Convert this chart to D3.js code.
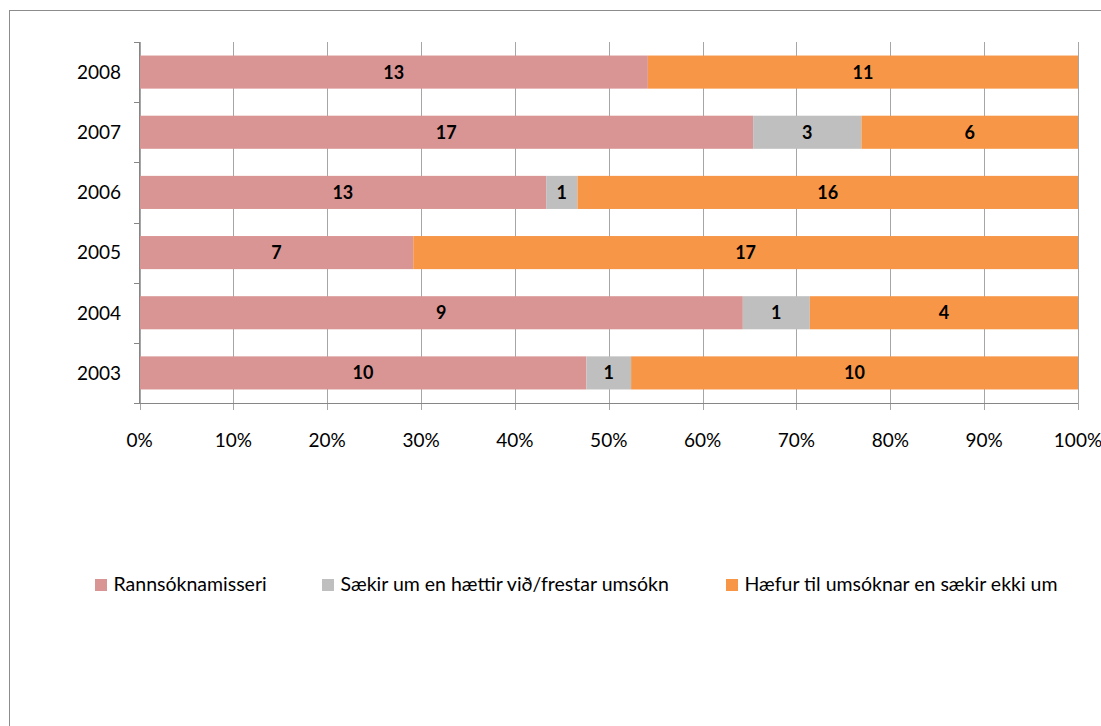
<!DOCTYPE html>
<html><head><meta charset="utf-8">
<script src="https://cdn.jsdelivr.net/npm/d3@7"></script>
<style>body{margin:0;background:#fff}svg{display:block}</style>
</head><body><svg id="c" width="1101" height="726"></svg>
<script>
const years = ["2008","2007","2006","2005","2004","2003"];
const seriesNames = ["Rannsóknamisseri","Sækir um en hættir við/frestar umsókn","Hæfur til umsóknar en sækir ekki um"];
const rannsokn = [13,17,13,7,9,10];
const saekir = [0,3,1,0,1,1];
const haefur = [11,6,16,17,4,10];
const colors = ["#D99594","#BFBFBF","#F79646"];
const xTicks = [0,0.1,0.2,0.3,0.4,0.5,0.6,0.7,0.8,0.9,1];

const FONT = "Lato, 'Noto Sans', sans-serif";
const svg = d3.select("#c");
svg.append("rect").attr("x",9.5).attr("y",10.5).attr("width",1120).attr("height",740)
  .attr("fill","#fff").attr("stroke","#8c8c8c").attr("stroke-width",1);

const rows = years.map((y,i)=>({year:y, vals:[rannsokn[i],saekir[i],haefur[i]]}));
const x = d3.scaleLinear().domain([0,1]).range([139.5,1078]);
const y = d3.scaleBand().domain(years).range([42,403]).paddingInner(0.45).paddingOuter(0.225);

const g = svg.append("g");
// gridlines
g.selectAll("line.grid").data(xTicks).join("line")
  .attr("x1",d=>Math.round(x(d))+0.5).attr("x2",d=>Math.round(x(d))+0.5)
  .attr("y1",42).attr("y2",410).attr("stroke","#a6a6a6").attr("stroke-width",1);

// bars
rows.forEach(r=>{
  const tot = d3.sum(r.vals);
  let acc = 0;
  r.vals.forEach((v,k)=>{
    if(v===0) return;
    const x0 = x(acc/tot), x1 = x((acc+v)/tot);
    g.append("rect").attr("x",x0).attr("y",y(r.year)).attr("width",x1-x0).attr("height",y.bandwidth()).attr("fill",colors[k]);
    g.append("text").attr("x",(x0+x1)/2).attr("y",y(r.year)+y.bandwidth()/2).attr("dy","0.36em")
      .attr("text-anchor","middle").attr("font-family",FONT).attr("font-weight","bold").attr("font-size",18)
      .attr("fill","#000").text(v);
    acc += v;
  });
});

// y axis
const yTickPos = d3.range(years.length+1).map(i=>42+i*(361/years.length));
g.append("line").attr("x1",139.5).attr("x2",139.5).attr("y1",42).attr("y2",403).attr("stroke","#868686");
g.selectAll("line.yt").data(yTickPos).join("line")
  .attr("x1",134).attr("x2",139.5).attr("y1",d=>Math.round(d)+0.5).attr("y2",d=>Math.round(d)+0.5).attr("stroke","#868686");
g.append("line").attr("x1",134).attr("x2",1078).attr("y1",403.5).attr("y2",403.5).attr("stroke","#868686");
g.selectAll("text.yl").data(years).join("text")
  .attr("x",121).attr("y",d=>y(d)+y.bandwidth()/2).attr("dy","0.36em").attr("text-anchor","end")
  .attr("font-family",FONT).attr("font-size",19).attr("fill","#000").text(d=>d);
g.selectAll("text.xl").data(xTicks).join("text")
  .attr("x",d=>x(d)).attr("y",440).attr("dy","0.36em").attr("text-anchor","middle")
  .attr("font-family",FONT).attr("font-size",19).attr("fill","#000").text(d=>d3.format(".0%")(d));

// legend
const legX = [95,322,726];
const leg = svg.append("g");
seriesNames.forEach((n,i)=>{
  leg.append("rect").attr("x",legX[i]).attr("y",579).attr("width",12).attr("height",12).attr("fill",colors[i]);
  leg.append("text").attr("x",legX[i]+18.5).attr("y",591)
    .attr("font-family",FONT).attr("font-size",19.5).attr("fill","#000").text(n);
});
</script></body></html>
